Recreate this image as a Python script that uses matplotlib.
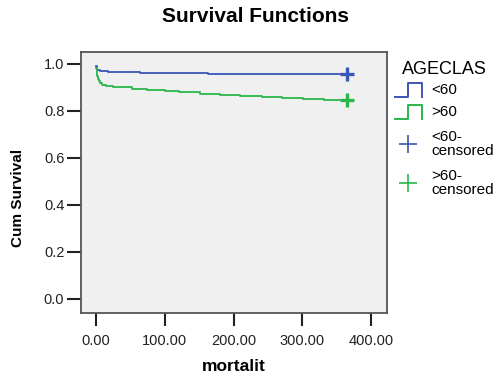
import numpy as np
import matplotlib
matplotlib.use("Agg")
import matplotlib.pyplot as plt
from matplotlib.lines import Line2D

plt.rcParams['font.family'] = ['Liberation Sans', 'DejaVu Sans']

# Kaplan-Meier step points
t_lt60 = [0, 2, 6, 18, 64, 91, 163, 365]
s_lt60 = [0.991, 0.975, 0.971, 0.967, 0.963, 0.960, 0.957, 0.957]
t_gt60 = [0, 1, 2, 3, 4, 6, 9, 15, 25, 52, 74, 100, 120, 151, 180, 209, 241, 270, 301, 331, 365]
s_gt60 = [0.985, 0.965, 0.950, 0.937, 0.926, 0.918, 0.911, 0.906, 0.903, 0.894, 0.891, 0.885,
          0.881, 0.874, 0.869, 0.864, 0.858, 0.854, 0.851, 0.847, 0.846]
cens_t = [365, 365]
cens_s = [0.957, 0.846]

groups = ['<60', '>60']
blue = '#3a57b5'
green = '#2bb64a'
colors = [blue, green]

W, H = 501, 381
fig = plt.figure(figsize=(W / 100, H / 100), dpi=100)
ax = fig.add_axes([81 / W, 1 - 313 / H, 306 / W, 261 / H])
ax.set_facecolor('#f0f0f0')

ax.step(t_lt60, s_lt60, where='post', color=blue, lw=1.3)
ax.step(t_gt60, s_gt60, where='post', color=green, lw=1.3)
for t, s, c in zip(cens_t, cens_s, colors):
    ax.plot(t, s, '+', color=c, ms=10, mew=2.4)

ax.set_xlim(-21.8, 423)
ax.set_ylim(-0.06, 1.051)
ax.set_xticks([0, 100, 200, 300, 400])
ax.set_xticklabels(['0.00', '100.00', '200.00', '300.00', '400.00'])
ax.set_yticks([0.0, 0.2, 0.4, 0.6, 0.8, 1.0])
ax.set_yticklabels(['0.0', '0.2', '0.4', '0.6', '0.8', '1.0'])
ax.tick_params(axis='both', labelsize=10.5, width=1.5, color='#222222', labelcolor='#222222')
ax.tick_params(axis='x', length=9, pad=6)
ax.tick_params(axis='y', length=10, pad=2)
for sp in ax.spines.values():
    sp.set_color('#555555')
    sp.set_linewidth(1.3)

ax.set_xlabel('mortalit', fontsize=12.5, fontweight='bold', labelpad=8)
ax.set_ylabel('Cum Survival', fontsize=11, fontweight='bold')
ax.yaxis.set_label_coords(-56 / 306, 0.44)
fig.text(255 / W, 1 - 17 / H, 'Survival Functions', fontsize=15, fontweight='bold',
         ha='center', va='center')

# legend drawn by hand to follow the SPSS layout
def px(x, y):
    return x / W, 1 - y / H

fig.text(*px(402, 70), 'AGECLAS', fontsize=13, ha='left', va='center')
for i, (g, c) in enumerate(zip(groups, colors)):
    yb = 97 + 22 * i
    xs = [395, 408, 408, 422, 422]
    ys = [yb, yb, yb - 14, yb - 14, yb]
    fig.add_artist(Line2D([x / W for x in xs], [1 - y / H for y in ys], color=c, lw=1.4))
    fig.text(*px(431, 90 + 22 * i), g, fontsize=11, ha='left', va='center')
for i, (g, c) in enumerate(zip(groups, colors)):
    yc = 144 + 39 * i
    fig.add_artist(Line2D([408 / W], [1 - yc / H], color=c, marker='+', ms=13, mew=1.2))
    fig.text(*px(431, yc), g + '-\ncensored', fontsize=11, ha='left', va='center',
             linespacing=1.05)

fig.savefig('out.png', dpi=100)
